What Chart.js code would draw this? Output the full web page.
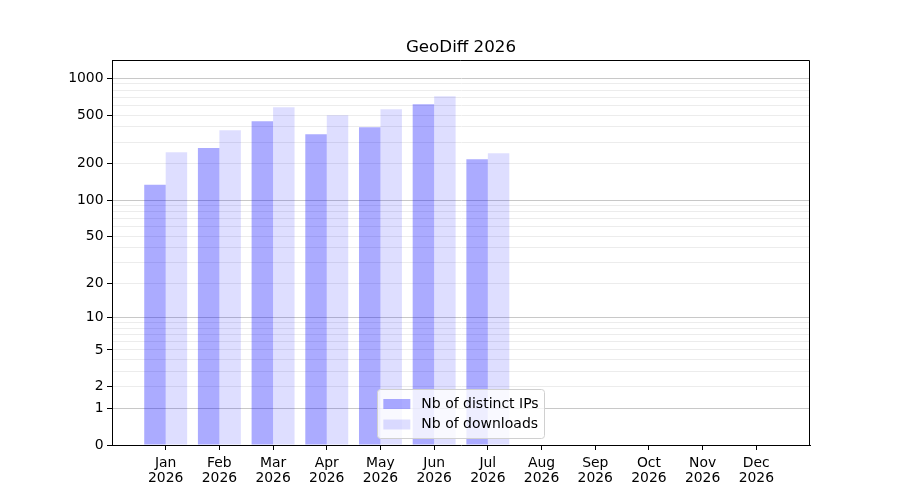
<!DOCTYPE html>
<html lang="en">
<head>
    <meta charset="UTF-8">
    <title>GeoDiff 2026</title>
    <script src="https://cdn.jsdelivr.net/npm/chart.js"></script>
    <style>
        html, body { margin: 0; padding: 0; background: #fff; }
        #wrap { width: 900px; height: 500px; }
    </style>
</head>
<body>
    <div id="wrap"><canvas id="geoChart" width="900" height="500"></canvas></div>

    <script>
        // months shown on the x axis
        const months = ['Jan', 'Feb', 'Mar', 'Apr', 'May', 'Jun', 'Jul', 'Aug', 'Sep', 'Oct', 'Nov', 'Dec'];
        const year = '2026';

        // values (Jan..Jul)
        const distinctIPs = [134, 268, 445, 348, 398, 614, 217];
        const downloads = [248, 376, 580, 499, 558, 714, 243];

        // y ticks: labelled ones, and the extra faint grid lines
        const yTickLabels = [0, 1, 2, 5, 10, 20, 50, 100, 200, 500, 1000];
        const yMajorLines = [1, 10, 100, 1000];
        const yMinorLines = [3, 4, 6, 7, 8, 9, 30, 40, 60, 70, 80, 90, 300, 400, 600, 700, 800, 900];

        const FONT = 'DejaVu Sans';

        // y axis is log10(v + 1)
        const tf = v => Math.log10(v + 1);

        function toPoints(values) {
            return values.map((v, i) => ({ x: i, y: tf(v) }));
        }

        // top and right spines (left and bottom come from the axes)
        const frame = {
            id: 'frame',
            afterDraw(chart) {
                const a = chart.chartArea, c = chart.ctx;
                const t = Math.round(a.top) + 0.5, r = Math.round(a.right) - 0.5;
                c.save();
                c.strokeStyle = '#000';
                c.lineWidth = 1;
                c.beginPath();
                c.moveTo(a.left, t);
                c.lineTo(r, t);
                c.lineTo(r, a.bottom);
                c.stroke();
                c.restore();
            }
        };

        // legend in the lower centre of the plot
        const boxLegend = {
            id: 'boxLegend',
            afterDraw(chart) {
                const a = chart.chartArea, c = chart.ctx;
                const sets = chart.data.datasets;
                c.save();
                c.font = '14px "' + FONT + '"';
                let tw = 0;
                sets.forEach(d => { tw = Math.max(tw, c.measureText(d.label).width); });
                const pad = 6, patchW = 27, gap = 11, rowH = 20.5;
                const w = pad + patchW + gap + tw + pad;
                const h = pad + rowH * sets.length + 2;
                const x = (a.left + a.right) / 2 - w / 2;
                const y = a.bottom - 7 - h;
                c.fillStyle = 'rgba(255,255,255,0.8)';
                c.strokeStyle = '#d0d0d0';
                c.lineWidth = 1;
                c.beginPath();
                c.roundRect(Math.round(x) + 0.5, Math.round(y) + 0.5, Math.round(w), Math.round(h), 3);
                c.fill();
                c.stroke();
                sets.forEach((d, i) => {
                    const cy = y + pad + 5 + rowH * i + 4;
                    c.fillStyle = d.backgroundColor;
                    c.fillRect(x + pad, cy - 5, patchW, 10);
                    c.fillStyle = '#000';
                    c.textBaseline = 'middle';
                    c.fillText(d.label, x + pad + patchW + gap, cy);
                });
                c.restore();
            }
        };

        new Chart(document.getElementById('geoChart'), {
            type: 'bar',
            data: {
                datasets: [
                    {
                        label: 'Nb of distinct IPs',
                        data: toPoints(distinctIPs),
                        backgroundColor: 'rgba(0,0,255,0.33)'
                    },
                    {
                        label: 'Nb of downloads',
                        data: toPoints(downloads),
                        backgroundColor: 'rgba(0,0,255,0.13)'
                    }
                ]
            },
            options: {
                responsive: false,
                animation: false,
                devicePixelRatio: 1,
                categoryPercentage: 0.8,
                barPercentage: 1.0,
                // left 22 + right 0 keeps the title centred over the plot
                layout: { padding: { left: 22, right: 0, top: 0, bottom: 0 } },
                plugins: {
                    legend: { display: false },
                    tooltip: { enabled: false },
                    title: {
                        display: true,
                        text: 'GeoDiff 2026',
                        color: '#000',
                        font: { family: FONT, size: 16.7, weight: 'normal' },
                        padding: { top: 38, bottom: 2 }
                    }
                },
                scales: {
                    x: {
                        type: 'linear',
                        min: -1,
                        max: 12,
                        offset: false,
                        afterBuildTicks(scale) {
                            scale.ticks = months.map((m, i) => ({ value: i }));
                        },
                        afterFit(scale) { scale.height = 55; },
                        border: { color: '#000', width: 1 },
                        grid: { offset: false, drawOnChartArea: false, tickLength: 5, tickColor: '#000', tickWidth: 1 },
                        ticks: {
                            autoSkip: false,
                            maxRotation: 0,
                            padding: 5.5,
                            color: '#000',
                            font: { family: FONT, size: 13.9, lineHeight: 1.12 },
                            callback: v => [months[v], year]
                        }
                    },
                    y: {
                        type: 'linear',
                        min: 0,
                        max: 3.15,
                        afterBuildTicks(scale) {
                            const all = [];
                            yTickLabels.forEach(t => all.push({ value: tf(t), raw: t, labelled: true }));
                            yMinorLines.forEach(t => all.push({ value: tf(t), raw: t, labelled: false }));
                            all.sort((p, q) => p.value - q.value);
                            scale.ticks = all;
                        },
                        afterFit(scale) { scale.width = 90; },
                        border: { color: '#000', width: 1 },
                        grid: {
                            tickLength: 5,
                            tickWidth: 1,
                            lineWidth: 1,
                            color(ctx) {
                                const t = ctx.tick;
                                if (!t || t.raw === 0) return 'rgba(0,0,0,0)';
                                return yMajorLines.includes(t.raw) ? '#c8c8c8' : '#ececec';
                            },
                            tickColor(ctx) {
                                const t = ctx.tick;
                                return t && t.labelled ? '#000' : 'rgba(0,0,0,0)';
                            }
                        },
                        ticks: {
                            autoSkip: false,
                            padding: 3.5,
                            color: '#000',
                            font: { family: FONT, size: 13.9 },
                            callback: (v, i, ticks) => ticks[i].labelled ? String(ticks[i].raw) : ''
                        }
                    },
                    // empty right-hand gutter, same width as the reference margin
                    yRight: {
                        type: 'linear',
                        position: 'right',
                        display: true,
                        min: 0,
                        max: 1,
                        afterFit(scale) { scale.width = 90; },
                        border: { display: false },
                        grid: { display: false },
                        ticks: { display: false }
                    }
                }
            },
            plugins: [frame, boxLegend]
        });
    </script>
</body>
</html>
